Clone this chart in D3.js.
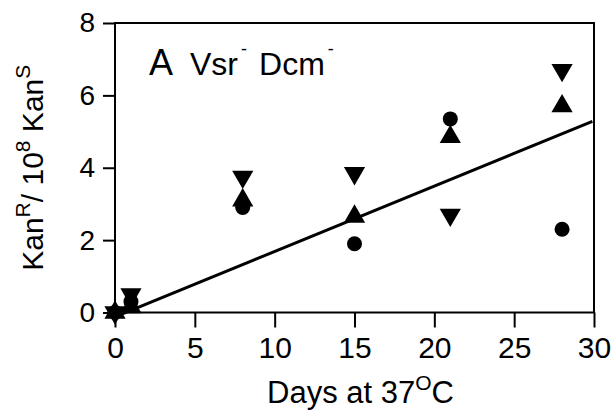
<!DOCTYPE html>
<html>
<head>
<meta charset="utf-8">
<script src="https://cdn.jsdelivr.net/npm/d3@7"></script>
<style>
  body { margin: 0; background: #fff; }
  svg text { font-family: "Liberation Sans", Arial, sans-serif; fill: #000; }
</style>
</head>
<body>
<div id="chart"></div>
<script>
"use strict";

// values (days at 37C vs KanR / 10^8 KanS)
const days = [0, 1, 8, 15, 21, 28];
const circleVals = [0, 0.3, 2.9, 1.9, 5.35, 2.3];
const upVals = [0, 0.15, 3.1, 2.65, 4.85, 5.7];
const downVals = [0, 0.5, 3.75, 3.85, 2.7, 6.7];
const fitDays = [0, 29.9];
const fitVals = [-0.12, 5.28];
const xTicks = [0, 5, 10, 15, 20, 25, 30];
const yTicks = [0, 2, 4, 6, 8];

const width = 613, height = 412;
const plotLeft = 115, plotRight = 594, plotTop = 23, plotBottom = 312.5;

let svg = d3.select("#chart").append("svg")
  .attr("width", width)
  .attr("height", height);

let x = d3.scaleLinear().domain([0, 30]).range([plotLeft, plotRight]);
let y = d3.scaleLinear().domain([0, 8]).range([plotBottom, plotTop]);

// x axis
let gx = svg.append("g")
  .attr("transform", "translate(0," + plotBottom + ")")
  .call(d3.axisBottom(x).tickValues(xTicks).tickSize(15).tickPadding(9).tickSizeOuter(0));
gx.select(".domain").remove();
gx.selectAll(".tick line").attr("stroke", "#000").attr("stroke-width", 2);
gx.selectAll(".tick text").style("font-size", "30px");

// y axis
let gy = svg.append("g")
  .attr("transform", "translate(" + plotLeft + ",0)")
  .call(d3.axisLeft(y).tickValues(yTicks).tickSize(12).tickPadding(8).tickSizeOuter(0));
gy.select(".domain").remove();
gy.selectAll(".tick line").attr("stroke", "#000").attr("stroke-width", 2);
gy.selectAll(".tick text").style("font-size", "28px");

// frame
svg.append("rect")
  .attr("x", plotLeft).attr("y", plotTop)
  .attr("width", plotRight - plotLeft).attr("height", plotBottom - plotTop)
  .attr("fill", "none").attr("stroke", "#000").attr("stroke-width", 2);

// fitted line
let fit = d3.zip(fitDays, fitVals);
svg.append("path")
  .datum(fit)
  .attr("d", d3.line().x(d => x(d[0])).y(d => y(d[1])))
  .attr("fill", "none").attr("stroke", "#000").attr("stroke-width", 3);

// markers
function drawSeries(vals, type, size, rot) {
  let sym = d3.symbol().type(type).size(size);
  svg.append("g").selectAll("path")
    .data(d3.zip(days, vals))
    .enter().append("path")
    .attr("d", sym)
    .attr("transform", d => "translate(" + x(d[0]) + "," + y(d[1]) + ") rotate(" + rot + ")")
    .attr("fill", "#000");
}
drawSeries(circleVals, d3.symbolCircle, 177, 0);
drawSeries(upVals, d3.symbolTriangle, 195, 0);
drawSeries(downVals, d3.symbolTriangle, 195, 180);

// panel label
let panel = svg.append("text").attr("x", 149).attr("y", 75);
panel.append("tspan").style("font-size", "36px").text("A");
panel.append("tspan").attr("dx", 17).style("font-size", "32px").text("Vsr");
panel.append("tspan").attr("dx", 3).attr("dy", -20).style("font-size", "18px").text("-");
panel.append("tspan").attr("dy", 20).attr("dx", 12).style("font-size", "32px").text("Dcm");
panel.append("tspan").attr("dx", 3).attr("dy", -20).style("font-size", "18px").text("-");

// x axis title
let xt = svg.append("text")
  .attr("x", (plotLeft + plotRight) / 2 + 6).attr("y", 403)
  .attr("text-anchor", "middle").style("font-size", "31px");
xt.append("tspan").text("Days at 37");
xt.append("tspan").attr("dy", -13).style("font-size", "21px").text("O");
xt.append("tspan").attr("dy", 13).text("C");

// y axis title
let yt = svg.append("text")
  .attr("transform", "translate(43," + (plotTop + plotBottom) / 2 + ") rotate(-90)")
  .attr("text-anchor", "middle").style("font-size", "30px");
yt.append("tspan").text("Kan");
yt.append("tspan").attr("dy", -13).style("font-size", "21px").text("R");
yt.append("tspan").attr("dy", 13).text("/ 10");
yt.append("tspan").attr("dy", -13).style("font-size", "21px").text("8");
yt.append("tspan").attr("dy", 13).text(" Kan");
yt.append("tspan").attr("dy", -13).style("font-size", "21px").text("S");
</script>
</body>
</html>
